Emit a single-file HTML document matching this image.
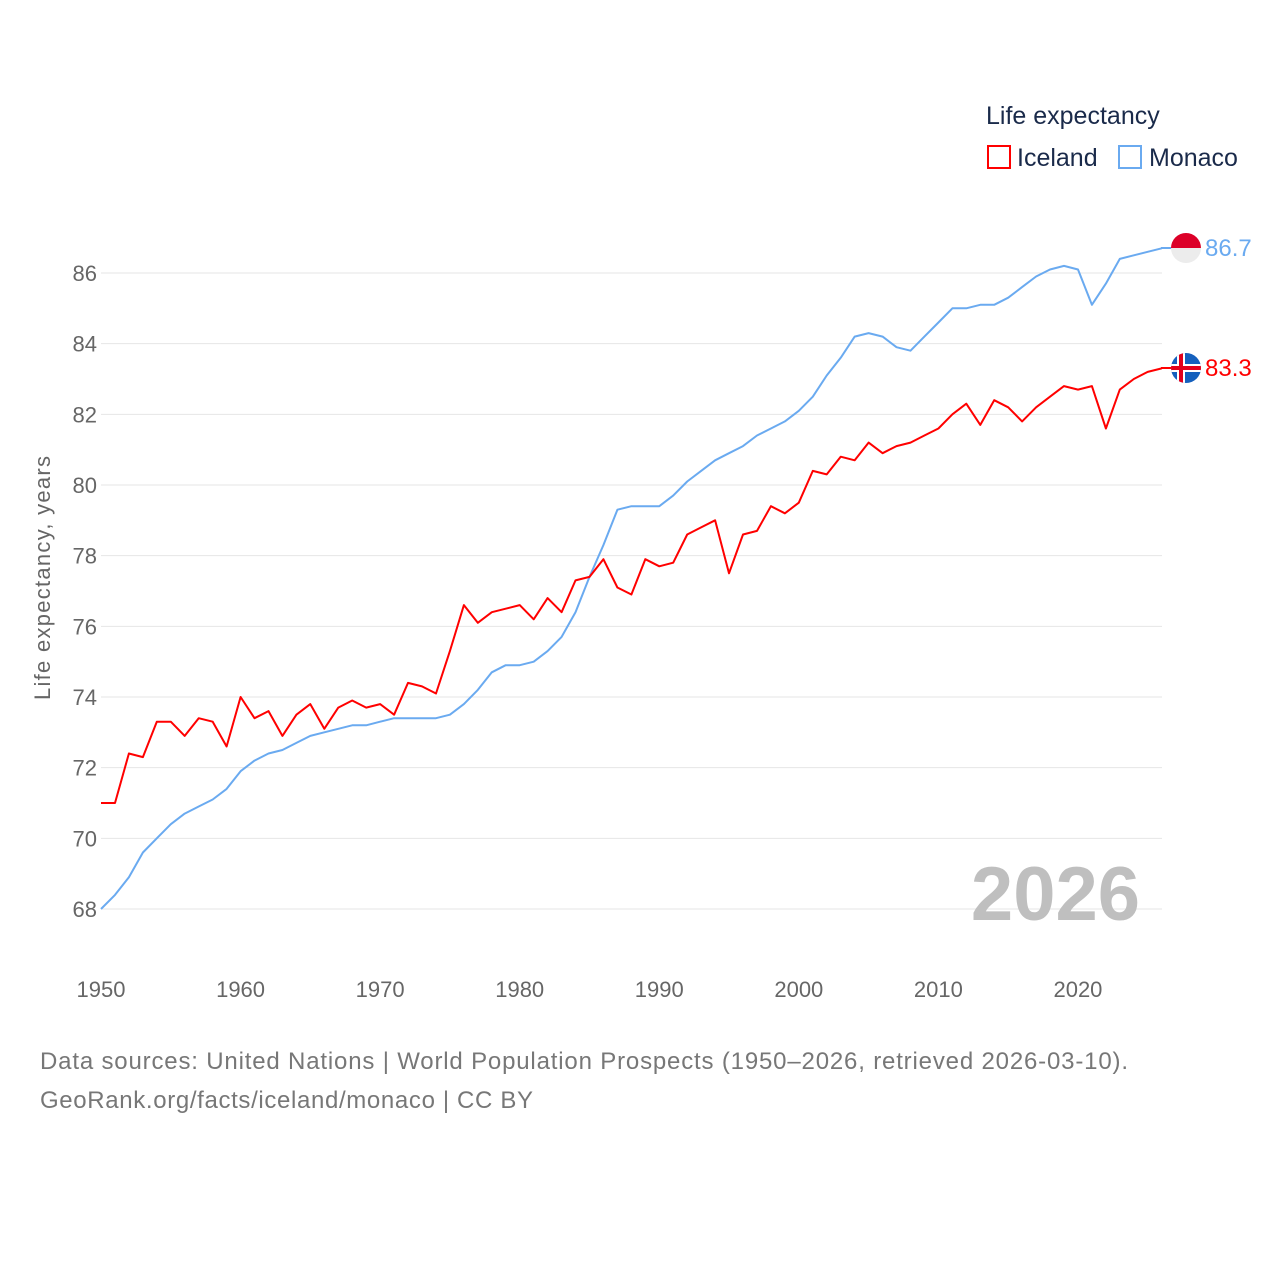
<!DOCTYPE html>
<html><head><meta charset="utf-8"><style>
body{margin:0;background:#fff;}
svg text{font-family:"Liberation Sans",sans-serif;}
</style></head><body>
<svg id="chart" width="1280" height="1280" xmlns="http://www.w3.org/2000/svg">
<g id="grid"></g>
<g id="yticks"></g>
<g id="xticks"></g>
<text transform="translate(50,578) rotate(-90)" text-anchor="middle" font-size="22" fill="#666" textLength="244">Life expectancy, years</text>
<text x="1140" y="920" text-anchor="end" font-size="76" font-weight="bold" fill="#bfbfbf">2026</text>
<g id="series"></g>
<g>
<text x="986" y="124" font-size="25" fill="#1a2a4a">Life expectancy</text>
<rect x="988" y="146" width="22" height="22" fill="none" stroke="#f00" stroke-width="2"/>
<text x="1017" y="166" font-size="25" fill="#1a2a4a">Iceland</text>
<rect x="1119" y="146" width="22" height="22" fill="none" stroke="#6aaaf0" stroke-width="2"/>
<text x="1149" y="166" font-size="25" fill="#1a2a4a">Monaco</text>
</g>
<defs>
<clipPath id="cm"><circle cx="1186" cy="248" r="15"/></clipPath>
<clipPath id="ci"><circle cx="1186" cy="368" r="15"/></clipPath>
</defs>
<line x1="1161" y1="248" x2="1172" y2="248" stroke="#6aaaf0" stroke-width="2"/>
<line x1="1161" y1="368" x2="1172" y2="368" stroke="#f00" stroke-width="2"/>
<g clip-path="url(#cm)">
<rect x="1170" y="232" width="32" height="16" fill="#dc0028"/>
<rect x="1170" y="248" width="32" height="16" fill="#ececec"/>
</g>
<g clip-path="url(#ci)">
<rect x="1170" y="352" width="32" height="32" fill="#1560bd"/>
<rect x="1170" y="364" width="32" height="8" fill="#fff"/>
<rect x="1177" y="352" width="8" height="32" fill="#fff"/>
<rect x="1170" y="366" width="32" height="4" fill="#e3001b"/>
<rect x="1179" y="352" width="4" height="32" fill="#e3001b"/>
</g>
<text x="1205" y="256" font-size="24" fill="#6aaaf0">86.7</text>
<text x="1205" y="376" font-size="24" fill="#f00">83.3</text>
<text x="40" y="1069" font-size="24" fill="#777" textLength="1088">Data sources: United Nations | World Population Prospects (1950–2026, retrieved 2026-03-10).</text>
<text x="40" y="1108" font-size="24" fill="#777" textLength="493">GeoRank.org/facts/iceland/monaco | CC BY</text>
</svg>
<script>
const years=[];for(let y=1950;y<=2026;y++)years.push(y);
const iceland=[71.0,71.0,72.4,72.3,73.3,73.3,72.9,73.4,73.3,72.6,74.0,73.4,73.6,72.9,73.5,73.8,73.1,73.7,73.9,73.7,73.8,73.5,74.4,74.3,74.1,75.3,76.6,76.1,76.4,76.5,76.6,76.2,76.8,76.4,77.3,77.4,77.9,77.1,76.9,77.9,77.7,77.8,78.6,78.8,79.0,77.5,78.6,78.7,79.4,79.2,79.5,80.4,80.3,80.8,80.7,81.2,80.9,81.1,81.2,81.4,81.6,82.0,82.3,81.7,82.4,82.2,81.8,82.2,82.5,82.8,82.7,82.8,81.6,82.7,83.0,83.2,83.3];
const monaco=[68.0,68.4,68.9,69.6,70.0,70.4,70.7,70.9,71.1,71.4,71.9,72.2,72.4,72.5,72.7,72.9,73.0,73.1,73.2,73.2,73.3,73.4,73.4,73.4,73.4,73.5,73.8,74.2,74.7,74.9,74.9,75.0,75.3,75.7,76.4,77.4,78.3,79.3,79.4,79.4,79.4,79.7,80.1,80.4,80.7,80.9,81.1,81.4,81.6,81.8,82.1,82.5,83.1,83.6,84.2,84.3,84.2,83.9,83.8,84.2,84.6,85.0,85.0,85.1,85.1,85.3,85.6,85.9,86.1,86.2,86.1,85.1,85.7,86.4,86.5,86.6,86.7];
const yTicks=[68,70,72,74,76,78,80,82,84,86];
const xTicks=[1950,1960,1970,1980,1990,2000,2010,2020];
const NS="http://www.w3.org/2000/svg";
function xs(y){return 101+(y-1950)*(1161.7-101)/76;}
function ys(v){return 909-(v-68)*(909-273)/18;}
const grid=document.getElementById('grid'),yt=document.getElementById('yticks'),xt=document.getElementById('xticks'),ser=document.getElementById('series');
yTicks.forEach(t=>{
const l=document.createElementNS(NS,'line');


l.setAttribute('x1',101);l.setAttribute('x2',1162);l.setAttribute('y1',ys(t));l.setAttribute('y2',ys(t));
l.setAttribute('stroke','#e6e6e6');l.setAttribute('stroke-width','1');grid.appendChild(l);
const tx=document.createElementNS(NS,'text');


tx.setAttribute('x',97);tx.setAttribute('y',ys(t)+8);tx.setAttribute('text-anchor','end');tx.setAttribute('font-size','22');tx.setAttribute('fill','#666');tx.textContent=t;yt.appendChild(tx);
});
xTicks.forEach(t=>{
const tx=document.createElementNS(NS,'text');


tx.setAttribute('x',xs(t));tx.setAttribute('y',997);tx.setAttribute('text-anchor','middle');tx.setAttribute('font-size','22');tx.setAttribute('fill','#666');tx.textContent=t;xt.appendChild(tx);
});
function line(vals,color,name){
const p=document.createElementNS(NS,'polyline');


p.setAttribute('points',vals.map((v,i)=>xs(years[i]).toFixed(1)+','+ys(v).toFixed(1)).join(' '));
p.setAttribute('fill','none');p.setAttribute('stroke',color);p.setAttribute('stroke-width','2');p.setAttribute('stroke-linejoin','round');
ser.appendChild(p);
}
line(monaco,'#6aaaf0','monaco-line');
line(iceland,'#f00','iceland-line');
</script>
</body></html>
